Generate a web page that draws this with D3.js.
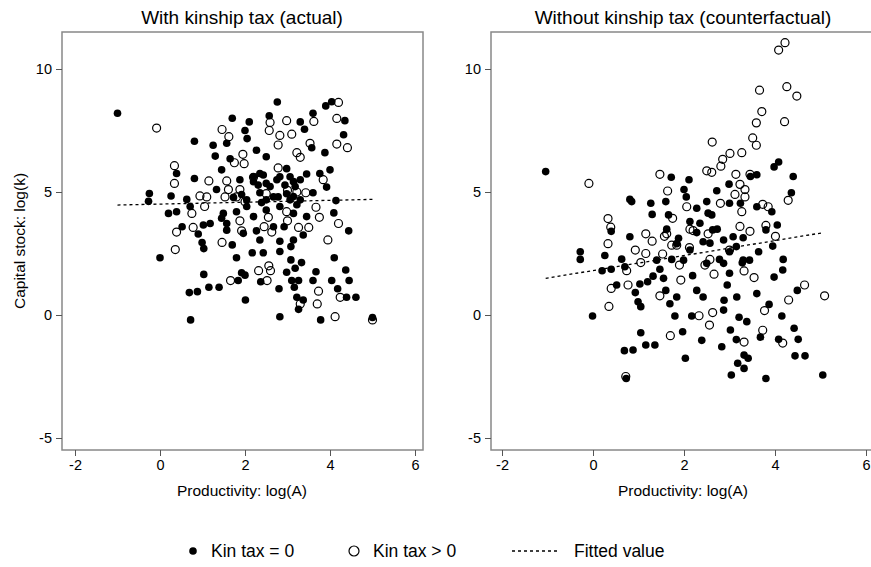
<!DOCTYPE html>
<html><head><meta charset="utf-8">
<script src="https://cdn.jsdelivr.net/npm/d3@7"></script>
<style>body{margin:0;background:#fff;font-family:"Liberation Sans",Arial,sans-serif}</style>
</head><body><svg id="chart" width="871" height="567"></svg>
<script>
// [logA, logk]
var actualZero = [[-1.0,8.2],[2.76,8.66],[1.7,8.0],[2.1,7.85],[2.57,8.1],[3.3,7.85],[3.6,8.2],[3.9,8.5],[4.04,8.67],[4.35,7.9],[3.4,7.55],[2.0,7.5],[2.05,7.17],[0.81,7.06],[1.25,6.9],[1.57,6.98],[4.32,7.33],[3.57,6.8],[3.88,6.6],[1.3,6.46],[1.65,6.35],[2.27,6.7],[2.5,6.43],[4.0,5.9],[1.45,5.9],[0.39,5.75],[0.81,5.55],[2.35,5.75],[2.98,5.95],[3.45,5.73],[3.76,5.75],[1.88,5.5],[2.2,5.42],[2.5,5.35],[2.75,5.5],[3.14,5.42],[3.92,5.2],[-0.25,4.94],[0.26,4.84],[-0.27,4.62],[0.63,4.7],[1.33,5.1],[1.73,4.78],[2.04,4.68],[2.35,4.97],[2.67,4.8],[2.98,4.93],[3.3,4.68],[3.6,4.97],[4.14,4.65],[0.2,4.13],[0.39,4.2],[0.71,4.41],[1.49,4.13],[1.8,4.2],[2.2,4.0],[2.5,4.27],[2.82,4.41],[3.14,4.13],[3.45,4.0],[4.09,4.15],[0.52,3.59],[1.02,3.66],[1.18,3.72],[1.57,3.45],[1.96,3.32],[2.27,3.42],[2.67,3.59],[2.92,3.59],[3.14,3.05],[3.37,3.25],[4.44,3.42],[0.9,3.29],[0.99,2.95],[1.03,2.7],[1.7,2.85],[2.35,3.05],[2.82,3.0],[2.82,2.58],[3.08,2.78],[0.0,2.33],[1.8,2.33],[2.17,2.53],[2.43,2.53],[3.08,2.24],[3.33,2.13],[4.1,2.33],[1.03,1.65],[1.92,1.72],[2.0,1.62],[2.37,1.35],[2.98,1.74],[3.18,1.9],[3.1,1.4],[3.26,1.4],[3.6,1.4],[3.67,1.76],[4.04,1.4],[4.37,1.83],[4.45,1.4],[0.69,0.91],[0.88,0.95],[1.15,1.13],[1.39,1.13],[1.84,1.4],[2.8,1.07],[3.16,1.13],[4.18,1.07],[4.39,0.72],[4.61,0.72],[3.22,0.72],[3.37,0.61],[3.26,0.23],[2.01,0.61],[0.72,-0.2],[2.82,-0.07],[3.78,-0.2],[5.0,-0.1],[2.2,5.62],[2.31,5.28],[2.43,5.69],[2.59,5.22],[2.82,5.62],[2.94,5.28],[3.06,5.62],[3.18,5.22],[3.3,5.5],[3.06,4.68],[3.22,4.48],[3.14,4.82],[1.45,3.93],[1.57,3.72],[2.04,4.41],[1.92,4.9],[2.5,4.68],[2.39,4.57],[2.78,4.8]];
var actualPos = [[-0.08,7.6],[1.46,7.54],[1.62,7.25],[2.59,7.83],[2.98,7.9],[2.57,7.5],[2.82,7.3],[3.1,7.35],[3.62,7.87],[4.2,8.64],[4.16,7.99],[3.53,6.98],[4.16,6.95],[4.41,6.8],[2.78,6.91],[3.22,6.6],[3.3,6.41],[1.95,6.53],[1.75,6.19],[1.98,6.15],[0.34,6.07],[0.34,5.35],[2.78,5.98],[1.15,5.45],[1.57,5.45],[2.2,5.6],[1.88,5.1],[1.61,5.1],[0.94,4.84],[1.1,4.8],[1.53,4.8],[1.8,4.8],[2.0,4.6],[2.5,4.93],[3.0,5.07],[3.22,5.0],[3.43,4.97],[3.84,5.5],[0.75,4.13],[1.05,4.41],[2.98,4.2],[3.67,4.38],[3.75,3.97],[2.55,3.97],[3.0,3.83],[1.88,3.83],[0.39,3.37],[0.78,3.56],[1.92,3.42],[2.45,3.59],[2.63,3.37],[3.26,3.56],[3.5,3.56],[4.2,3.72],[1.46,2.95],[3.95,3.05],[0.36,2.66],[2.56,2.0],[2.32,1.8],[2.6,1.8],[1.66,1.4],[2.52,1.4],[3.73,0.97],[4.24,0.72],[3.3,0.45],[3.7,0.45],[4.12,-0.07],[5.0,-0.2]];
var counterZero = [[-1.04,5.83],[-0.28,2.57],[-0.28,2.26],[-0.01,-0.04],[0.26,2.42],[0.2,1.8],[0.4,1.86],[0.52,1.22],[0.4,3.4],[0.63,2.27],[0.7,1.96],[0.81,3.18],[0.81,4.7],[0.85,4.61],[0.69,-1.45],[0.88,-1.42],[0.73,-2.58],[0.93,0.91],[0.99,0.54],[1.05,0.34],[1.05,-0.72],[1.16,-1.22],[1.36,-1.22],[1.03,1.26],[1.2,1.35],[1.27,4.54],[1.3,4.09],[1.32,1.58],[1.4,2.23],[1.47,1.86],[1.55,1.49],[1.6,4.61],[1.66,4.07],[1.72,5.6],[1.62,3.49],[1.73,2.26],[1.6,1.0],[1.69,0.46],[1.8,-0.04],[1.84,0.73],[1.88,3.12],[2.0,5.1],[2.05,4.8],[2.11,5.5],[2.13,3.8],[1.97,-0.68],[2.03,-1.76],[2.19,1.6],[2.17,-0.04],[2.28,1.0],[2.28,4.34],[2.35,3.73],[2.42,0.73],[2.39,-1.03],[2.5,4.61],[2.53,4.14],[2.61,4.07],[2.57,2.92],[2.63,3.46],[2.72,5.05],[2.73,3.49],[2.78,2.26],[2.83,-1.29],[2.87,0.2],[2.88,0.6],[2.95,1.22],[2.99,5.32],[3.0,4.54],[3.02,-0.61],[3.04,-2.44],[3.08,3.18],[3.15,-1.0],[3.16,0.73],[3.18,-1.96],[3.21,-0.09],[3.24,4.54],[3.28,2.12],[3.3,3.14],[3.32,-1.63],[3.32,-2.17],[3.38,-0.27],[3.41,-1.76],[3.44,2.23],[3.46,5.63],[3.6,5.7],[3.6,4.4],[3.6,0.87],[3.64,2.57],[3.68,-0.9],[3.8,-2.58],[3.8,3.46],[3.87,0.43],[3.93,4.2],[3.95,2.8],[4.05,3.66],[3.98,6.02],[4.08,6.22],[3.98,1.54],[4.15,-0.04],[4.17,1.83],[4.18,2.26],[4.08,-0.99],[4.36,4.97],[4.4,5.63],[4.42,-0.54],[4.44,-1.66],[4.51,-0.99],[4.49,1.0],[4.66,-1.66],[5.05,-2.44],[2.28,3.35],[2.42,2.98],[2.87,3.05],[3.0,2.57],[3.15,2.78],[3.3,2.23],[2.13,2.64],[1.99,2.23],[1.84,2.9],[2.5,2.1],[2.87,2.1],[3.0,1.7]];
var counterPos = [[4.22,11.07],[4.08,10.77],[4.26,9.28],[4.48,8.9],[3.66,9.14],[3.71,8.27],[4.21,7.86],[3.59,7.81],[3.51,7.2],[3.59,6.9],[2.62,7.03],[3.27,6.6],[3.01,6.57],[2.85,6.33],[2.81,6.05],[2.5,5.86],[2.61,5.8],[1.47,5.72],[1.64,5.04],[3.14,5.72],[3.45,5.72],[-0.09,5.35],[3.23,5.31],[3.34,5.1],[3.12,4.9],[3.34,4.8],[4.29,4.66],[2.8,4.54],[2.06,4.4],[3.73,4.5],[3.85,4.4],[3.27,4.2],[1.75,3.93],[0.33,3.92],[0.39,3.57],[3.8,3.64],[3.23,3.6],[2.13,3.49],[2.2,3.43],[3.45,3.4],[1.16,3.3],[1.62,3.3],[2.53,3.3],[4.01,3.2],[0.33,2.9],[1.57,3.2],[1.3,3.0],[1.73,2.84],[1.84,2.84],[2.12,2.74],[0.93,2.64],[1.16,2.5],[1.53,2.48],[3.0,2.64],[2.57,2.26],[1.05,2.13],[1.9,2.03],[0.74,1.8],[2.46,2.03],[2.66,1.66],[3.32,1.79],[3.54,1.52],[1.93,1.42],[0.77,1.22],[0.4,1.08],[1.47,0.78],[4.65,1.22],[5.09,0.78],[4.3,0.61],[0.35,0.35],[3.77,0.18],[2.63,0.1],[2.33,-0.03],[2.56,-0.41],[3.73,-0.62],[1.7,-0.84],[3.32,-1.1],[4.17,-1.14],[0.72,-2.5]];
var actualFit = [[-1.0,4.47],[5.0,4.7]];
var counterFit = [[-1.04,1.49],[5.07,3.35]];
var xTicks = [-2,0,2,4,6];
var yTicks = [-5,0,5,10];

var svg = d3.select('#chart');

function styleAxis(a) {
	a.select('.domain').remove();
	a.selectAll('line').attr('stroke', '#555');
	a.selectAll('text').attr('font-size', 14.5).attr('fill', '#000');
}

function panel(opt) {
	var x = d3.scaleLinear().domain([-2, 6]).range([opt.x0, opt.x6]);
	var y = d3.scaleLinear().domain([-5, 10]).range([438, 69]);
	var g = svg.append('g');

	g.append('rect').attr('x', opt.left).attr('y', 32).attr('width', opt.right - opt.left).attr('height', 418)
		.attr('fill', 'none').attr('stroke', '#888').attr('stroke-width', 1.5);

	// plain hyphen for negatives, as in the original
	g.append('g').attr('transform', 'translate(' + opt.left + ',0)')
		.call(d3.axisLeft(y).tickValues(yTicks).tickFormat(String).tickSize(6).tickPadding(4))
		.call(styleAxis);
	g.append('g').attr('transform', 'translate(0,450)')
		.call(d3.axisBottom(x).tickValues(xTicks).tickFormat(String).tickSize(6).tickPadding(4))
		.call(styleAxis);

	g.append('text').attr('x', opt.titleX).attr('y', 24).attr('text-anchor', 'middle').attr('font-size', 19).text(opt.title);
	g.append('text').attr('x', opt.titleX).attr('y', 496).attr('text-anchor', 'middle').attr('font-size', 15.5).text('Productivity: log(A)');

	var line = d3.line().x(function (d) { return x(d[0]); }).y(function (d) { return y(d[1]); });
	g.append('path').attr('d', line(opt.fit)).attr('stroke', '#000').attr('stroke-width', 1.3)
		.attr('stroke-dasharray', '3,3').attr('fill', 'none');

	g.selectAll('circle.z').data(opt.zero).enter().append('circle')
		.attr('cx', function (d) { return x(d[0]); }).attr('cy', function (d) { return y(d[1]); })
		.attr('r', 3.8).attr('fill', '#000');
	g.selectAll('circle.p').data(opt.pos).enter().append('circle')
		.attr('cx', function (d) { return x(d[0]); }).attr('cy', function (d) { return y(d[1]); })
		.attr('r', 4).attr('fill', 'none').attr('stroke', '#000').attr('stroke-width', 1.2);
}

panel({ x0: 75, x6: 415, left: 62, right: 423, titleX: 242, title: 'With kinship tax (actual)', zero: actualZero, pos: actualPos, fit: actualFit });
panel({ x0: 502, x6: 866, left: 491, right: 875, titleX: 683, title: 'Without kinship tax (counterfactual)', zero: counterZero, pos: counterPos, fit: counterFit });

svg.append('text').attr('transform', 'translate(25,241) rotate(-90)').attr('text-anchor', 'middle')
	.attr('font-size', 15.5).text('Capital stock: log(k)');

// legend
var lg = svg.append('g').attr('font-size', 17.5);
lg.append('circle').attr('cx', 193).attr('cy', 551).attr('r', 3.8).attr('fill', '#000');
lg.append('text').attr('x', 211).attr('y', 557).text('Kin tax = 0');
lg.append('circle').attr('cx', 354).attr('cy', 551).attr('r', 5).attr('fill', 'none').attr('stroke', '#000').attr('stroke-width', 1.2);
lg.append('text').attr('x', 373).attr('y', 557).text('Kin tax > 0');
lg.append('line').attr('x1', 512).attr('x2', 560).attr('y1', 551).attr('y2', 551).attr('stroke', '#000')
	.attr('stroke-width', 1.3).attr('stroke-dasharray', '3,3');
lg.append('text').attr('x', 574).attr('y', 557).text('Fitted value');
</script></body></html>
